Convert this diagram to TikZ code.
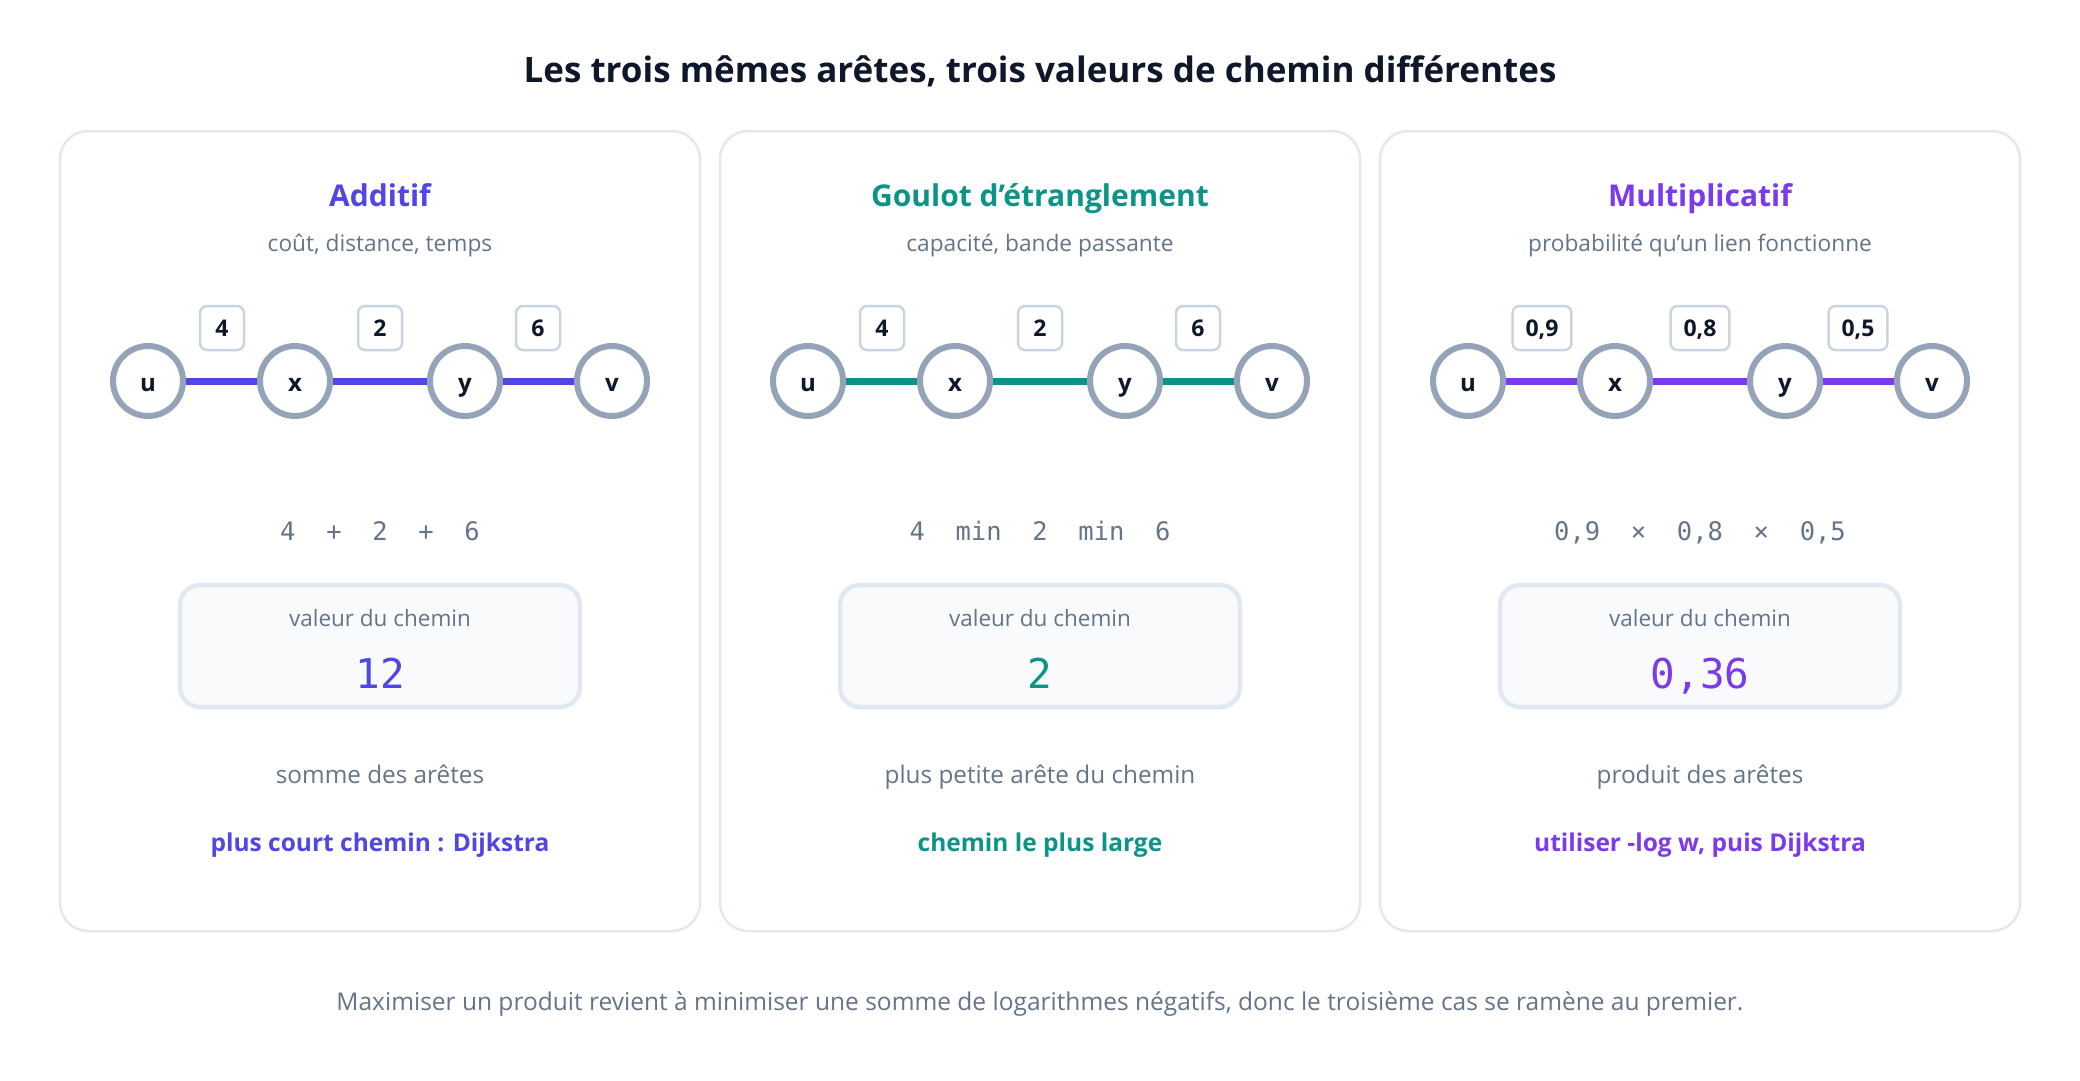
\documentclass[tikz,border=0pt]{standalone}
\usepackage{fontspec}
\setmainfont{Open Sans}
\setmonofont{DejaVu Sans Mono}
\definecolor{ink}{HTML}{0F172A}
\definecolor{muted}{HTML}{64748B}
\definecolor{ringgray}{HTML}{94A3B8}
\definecolor{tagline}{HTML}{CBD5E1}
\definecolor{cardline}{HTML}{E2E8F0}
\definecolor{boxfill}{HTML}{F8FAFC}
\definecolor{addcol}{HTML}{4F46E5}
\definecolor{bottlecol}{HTML}{0D9488}
\definecolor{multcol}{HTML}{7C3AED}
\newcommand{\fs}[1]{\fontsize{#1}{#1}\selectfont}
\begin{document}
\begin{tikzpicture}[x=1pt,y=-1pt,
    txt/.style={anchor=base, inner sep=0pt},
    card/.style={draw=cardline, line width=2.5pt, fill=white, rounded corners=28pt},
    vertex/.style={circle, draw=ringgray, line width=6pt, fill=white, minimum size=70pt,
        inner sep=0pt, text=ink, font=\fs{24}\bfseries, text height=21pt, text depth=0pt},
    wtag/.style={draw=tagline, line width=2.5pt, fill=white, rounded corners=7pt,
        minimum width=44pt, minimum height=44pt, inner xsep=13pt, inner ysep=0pt,
        text=ink, font=\fs{23}\bfseries, text height=16.5pt, text depth=0pt},
    valbox/.style={draw=cardline, line width=4.5pt, fill=boxfill, rounded corners=20pt,
        minimum width=400pt, minimum height=122pt},
    edge/.style={line width=7pt},
    note/.style={txt, text=muted, font=\fs{22.5}}]
    \useasboundingbox[fill=white] (0,0) rectangle (2080,1080);

    \node[txt, text=ink, font=\fs{35}\bfseries] (title) at (1040,82)
        {Les trois mêmes arêtes, trois valeurs de chemin différentes};

    \foreach \cx/\col/\pn/\ttl/\sub/\wa/\wb/\wc/\frm/\val/\dsc/\alg in {
        380/addcol/a/Additif/{coût, distance, temps}/4/2/6/{4~~+~~2~~+~~6}/12/{somme des arêtes}/{plus court chemin : Dijkstra},
        1040/bottlecol/b/{Goulot d’étranglement}/{capacité, bande passante}/4/2/6/{4~~min~~2~~min~~6}/2/{plus petite arête du chemin}/{chemin le plus large},
        1700/multcol/c/Multiplicatif/{probabilité qu’un lien fonctionne}/{0,9}/{0,8}/{0,5}/{0,9~~×~~0,8~~×~~0,5}/{0,36}/{produit des arêtes}/{utiliser -log w, puis Dijkstra}} {
        % card and headings
        \draw[card] (\cx-320,131) rectangle (\cx+320,931);
        \node[txt, text=\col, font=\fs{30}\bfseries] (\pn head) at (\cx,206) {\ttl};
        \node[note, font=\fs{22.7}] (\pn sub) at (\cx,251) {\sub};

        % path u - x - y - v
        \node[vertex] (\pn u) at (\cx-232,381) {u};
        \node[vertex] (\pn x) at (\cx-85,381) {x};
        \node[vertex] (\pn y) at (\cx+85,381) {y};
        \node[vertex] (\pn v) at (\cx+232,381) {v};
        \draw[edge, \col] (\pn u) -- (\pn x);
        \draw[edge, \col] (\pn x) -- (\pn y);
        \draw[edge, \col] (\pn y) -- (\pn v);
        \node[wtag] (\pn w1) at (\cx-158,328) {\wa};
        \node[wtag] (\pn w2) at (\cx,328) {\wb};
        \node[wtag] (\pn w3) at (\cx+158,328) {\wc};

        % computation and result
        \node[txt, text=muted, font=\fs{25.5}\ttfamily] (\pn calc) at (\cx,540) {\frm};
        \node[valbox] (\pn box) at (\cx,646) {};
        \node[note] (\pn lab) at (\cx,626.5) {valeur du chemin};
        \node[txt, text=\col, font=\fs{41}\ttfamily] (\pn val) at (\cx,688) {\val};
        \node[note, font=\fs{24.3}] (\pn desc) at (\cx,783.5) {\dsc};
        \node[txt, text=\col, font=\fs{24.5}\bfseries] (\pn algo) at (\cx,851) {\alg};
    }

    \node[note, font=\fs{24.5}] (foot) at (1040,1010)
        {Maximiser un produit revient à minimiser une somme de logarithmes négatifs, donc le troisième cas se ramène au premier.};
\end{tikzpicture}
\end{document}
